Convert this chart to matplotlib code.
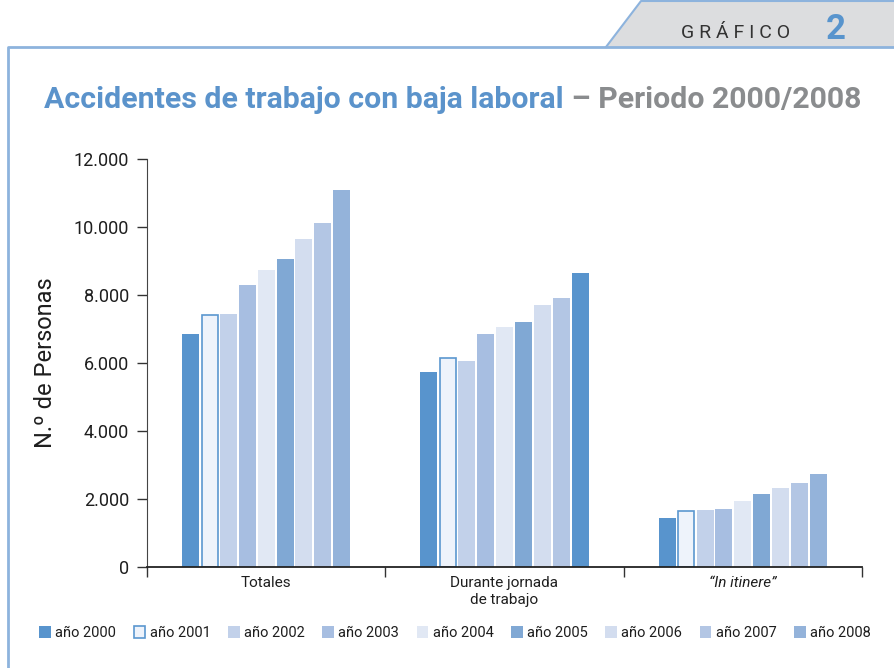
import matplotlib.pyplot as plt
import numpy as np
from matplotlib.patches import Polygon
from matplotlib.lines import Line2D

# data
categories = ['Totales', 'Durante jornada\nde trabajo', '“In itinere”']
years = ['año 2000', 'año 2001', 'año 2002', 'año 2003', 'año 2004',
         'año 2005', 'año 2006', 'año 2007', 'año 2008']
totales = [6850, 7400, 7440, 8290, 8740, 9060, 9650, 10120, 11090]
durante = [5740, 6140, 6060, 6850, 7060, 7210, 7710, 7910, 8650]
itinere = [1440, 1640, 1680, 1710, 1940, 2150, 2320, 2470, 2740]
yticks = [0, 2000, 4000, 6000, 8000, 10000, 12000]
ytick_labels = ['0', '2.000', '4.000', '6.000', '8.000', '10.000', '12.000']

colors = ['#5894CD', '#EEF3FB', '#C2D1EA', '#A7BEE1', '#E1E8F4',
          '#80A8D4', '#D3DDEF', '#B3C6E4', '#94B3DA']
edge_2001 = '#5B97CF'
frame_blue = '#8DB3DD'
text_col = '#1E1E1E'

plt.rcParams['font.family'] = ['Roboto', 'DejaVu Sans']

W, H = 894, 668
fig = plt.figure(figsize=(W / 100, H / 100), dpi=100)


def fx(x):
    return x / W


def fy(y):
    return 1 - y / H


# frame and tab
fig.add_artist(Polygon([(fx(606), fy(47)), (fx(641), fy(1)), (fx(894), fy(1)), (fx(894), fy(47))],
                       closed=True, facecolor='#DCDDDF', edgecolor='none', transform=fig.transFigure))
fig.add_artist(Line2D([fx(606), fx(641), fx(894)], [fy(47), fy(1), fy(1)],
                      color=frame_blue, lw=1.5, transform=fig.transFigure))
fig.add_artist(Line2D([fx(8), fx(8), fx(894)], [fy(668), fy(47), fy(47)],
                      color=frame_blue, lw=2, transform=fig.transFigure))
fig.text(fx(681), fy(38), 'G R Á F I C O', fontsize=14, color='#333333',
         va='baseline', ha='left')
fig.text(fx(826), fy(39), '2', fontsize=25, color='#5894CD', fontweight='bold',
         va='baseline', ha='left')

# title
t1 = fig.text(fx(44), fy(108), 'Accidentes de trabajo con baja laboral',
              fontsize=21.8, fontweight='bold', color='#5B93CB', va='baseline', ha='left')
fig.canvas.draw()
bb = t1.get_window_extent()
fig.text(bb.x1 / W, fy(108), ' – Periodo 2000/2008', fontsize=21.8, fontweight='bold',
         color='#8A8C8E', va='baseline', ha='left')

ax = fig.add_axes([fx(147), fy(567), fx(862) - fx(147), fy(159) - fy(567)])

data = np.array([totales, durante, itinere])
x = np.arange(len(categories))
step = 0.0792
width = 0.0713
for i in range(len(years)):
    pos = x + (i - 4) * step
    c = [colors[i]] * 3
    if i == 8:
        c[1] = colors[0]  # dark bar in the second group
    if i == 1:
        ax.bar(pos, data[:, i], width=width - 0.004, color=colors[i], edgecolor=edge_2001,
               linewidth=1.2, label=years[i])
    else:
        ax.bar(pos, data[:, i], width=width, color=c, label=years[i])

ax.set_xlim(-0.5, 2.5)
ax.set_ylim(0, 12000)
ax.set_yticks(yticks)
ax.set_yticklabels(ytick_labels, fontsize=13, color=text_col)
ax.set_xticks([-0.5, 0.5, 1.5, 2.5])
ax.set_xticklabels([])
ax.tick_params(axis='x', direction='out', length=7, width=1, color='#333333')
ax.tick_params(axis='y', direction='out', length=7, width=1, color='#333333', pad=6)
for i, lab in enumerate(categories):
    ax.text(i, -260, lab, ha='center', va='top', fontsize=11, color=text_col,
            style='italic' if i == 2 else 'normal', linespacing=1.25,
            multialignment='center')
for s in ['top', 'right']:
    ax.spines[s].set_visible(False)
ax.spines['left'].set_color('#444444')
ax.spines['bottom'].set_color('#222222')
ax.spines['bottom'].set_linewidth(1.3)
ax.set_ylabel('N.º de Personas', fontsize=17, color=text_col, labelpad=12)

handles, labels = ax.get_legend_handles_labels()
fig.legend(handles, labels, loc='center', bbox_to_anchor=(fx(455), fy(633)), ncol=9,
           frameon=False, fontsize=10.5, handlelength=0.8, handleheight=0.8,
           handletextpad=0.3, columnspacing=1.2, borderaxespad=0, labelcolor=text_col)

fig.savefig('out.png', dpi=100)
